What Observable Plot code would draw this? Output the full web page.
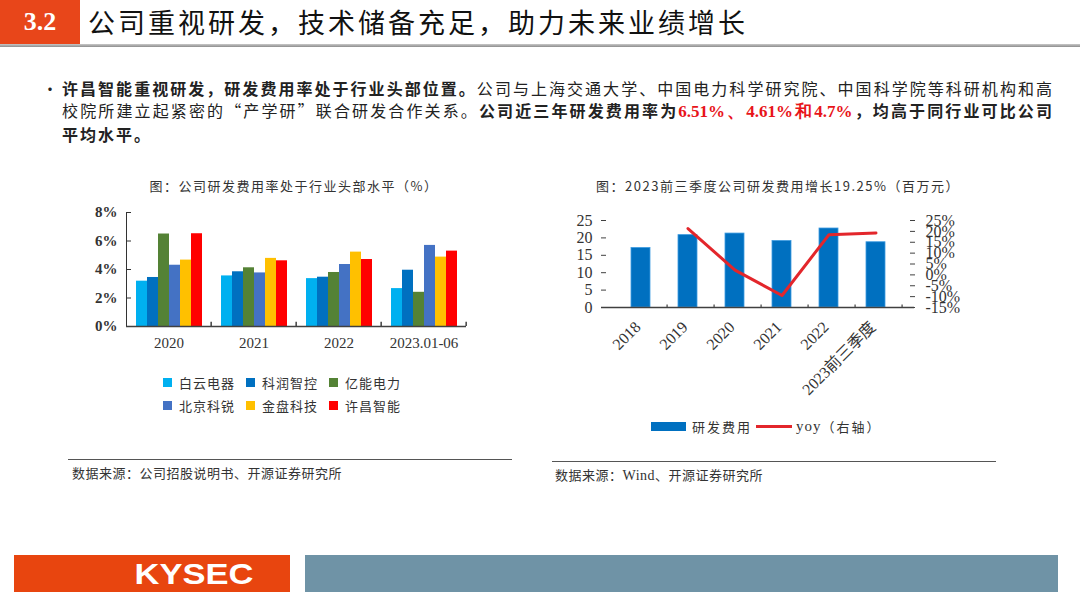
<!DOCTYPE html>
<html>
<head>
<meta charset="utf-8">
<script src="https://cdn.jsdelivr.net/npm/d3@7"></script>
<script src="https://cdn.jsdelivr.net/npm/@observablehq/plot@0.6"></script>
<style>
  html, body { margin: 0; padding: 0; }
  body { width: 1080px; height: 607px; position: relative; background: #fff; overflow: hidden;
         font-family: "Noto Sans CJK SC", sans-serif; color: #222; }
  .abs { position: absolute; }
  #hdrBox { left: 0; top: 0; width: 80px; height: 44px; background: #e8461a; color: #fff;
            font: bold 26px "Liberation Serif", serif; line-height: 44px; text-align: center; }
  #hdrTitle { left: 88px; top: 4px; font-size: 27px; letter-spacing: 3px; line-height: 36px; color: #111; }
  #hdrLine { left: 0; top: 44px; width: 1080px; height: 3px; background: linear-gradient(#c8c8c8, #8e8e8e); }
  #bullet { left: 42px; top: 77px; font-size: 16px; line-height: 22px; }
  #para { left: 62px; top: 77px; width: 990px; font-size: 16px; line-height: 22px; color: #222; }
  #para div { text-align: justify; text-align-last: justify; }
  #para div.last { text-align-last: left; letter-spacing: 2px; }
  .b { font-weight: 700; }
  .red { color: #e8141a; font: bold 17px "Liberation Serif", serif; }
  .ctitle { font-size: 13px; letter-spacing: 1.5px; color: #333; white-space: nowrap; transform: translateX(-50%); }
  .legend { font-size: 13px; letter-spacing: 1px; color: #333; }
  .lg-item { display: flex; align-items: center; height: 23px; }
  .sw { width: 9px; height: 9px; margin-right: 7px; }
  .src { font-size: 13px; color: #333; letter-spacing: 0.5px; }
  .rule { height: 1px; background: #555; }
  #leftChart svg g[aria-label="y-axis tick label"] { font-weight: bold; }
</style>
</head>
<body>
<div id="hdrBox" class="abs">3.2</div>
<div id="hdrTitle" class="abs">公司重视研发，技术储备充足，助力未来业绩增长</div>
<div id="hdrLine" class="abs"></div>

<div id="bullet" class="abs">•</div>
<div id="para" class="abs">
  <div><span class="b">许昌智能重视研发，研发费用率处于行业头部位置。</span>公司与上海交通大学、中国电力科学研究院、中国科学院等科研机构和高</div>
  <div>校院所建立起紧密的“产学研”联合研发合作关系。<span class="b">公司近三年研发费用率为</span><span class="red">6.51%、4.61%和4.7%</span><span class="b">，均高于同行业可比公司</span></div>
  <div class="last b">平均水平。</div>
</div>

<div class="abs ctitle" style="left:294px; top:176px;">图：公司研发费用率处于行业头部水平（%）</div>
<div class="abs ctitle" style="left:778px; top:176px;">图：2023前三季度公司研发费用增长19.25%（百万元）</div>

<div id="leftChart" class="abs" style="left:70px; top:200px;"></div>
<div id="rightChart" class="abs" style="left:545px; top:205px;"></div>

<div id="leftLegend" class="abs legend" style="left:163px; top:371px; display:grid; grid-template-columns: repeat(3, 83px);"></div>
<div id="rightLegend" class="abs legend" style="left:651px; top:415px; display:flex; align-items:center; height:23px;"></div>

<div class="abs rule" style="left:68px; top:459px; width:444px;"></div>
<div class="abs src" style="left:72px; top:463px;">数据来源：公司招股说明书、开源证券研究所</div>
<div class="abs rule" style="left:552px; top:461px; width:444px;"></div>
<div class="abs src" style="left:555px; top:465px;">数据来源：<span style="font-family:'Liberation Serif'; font-size:14px;">Wind</span>、开源证券研究所</div>

<div class="abs" style="left:14px; top:555px; width:276px; height:37px; background:#e8450f;"></div>
<div class="abs" style="left:124px; top:555px; width:140px; height:37px; color:#fff; font: bold 30px 'Liberation Sans', sans-serif; line-height:37px; text-align:center; transform: scaleX(1.15); transform-origin: center;">KYSEC</div>
<div class="abs" style="left:305px; top:555px; width:753px; height:37px; background:#6f93a6;"></div>

<script>
// ---------- Left chart data ----------
const years = ["2020", "2021", "2022", "2023.01-06"];
const companies = ["白云电器", "科润智控", "亿能电力", "北京科锐", "金盘科技", "许昌智能"];
const companyColors = ["#00b0f0", "#0070c0", "#548235", "#4472c4", "#ffc000", "#ff0000"];
const baiyun  = [3.18, 3.55, 3.36, 2.66];
const kerun   = [3.44, 3.84, 3.46, 3.95];
const yineng  = [6.49, 4.12, 3.79, 2.40];
const beijing = [4.30, 3.76, 4.35, 5.69];
const jinpan  = [4.66, 4.78, 5.22, 4.87];
const xuchang = [6.51, 4.61, 4.70, 5.29];
const rateTicks = [0, 2, 4, 6, 8];

// ---------- Right chart data ----------
const periods = ["2018", "2019", "2020", "2021", "2022", "2023前三季度"];
const rdExpense = [17.1, 20.8, 21.25, 19.1, 22.7, 18.75];
const yoy = [null, 21.3, 2.2, -9.5, 18.5, 19.25];
const leftTicks = [0, 5, 10, 15, 20, 25];
const yoyTicks = [-15, -10, -5, 0, 5, 10, 15, 20, 25];

const axisColor = "#404040";
const textColor = "#333";

// ----- Left chart -----
const series = [baiyun, kerun, yineng, beijing, jinpan, xuchang];
const rows = [];
years.forEach((yr, i) => companies.forEach((c, j) => rows.push({year: yr, company: c, value: series[j][i]})));

const LW = 410, LML = 56, LMR = 14, outerPad = 0.75;
const groupW = (LW - LML - LMR) / years.length;
const step = groupW / (companies.length + 2 * outerPad);
const boundaryDx = step / 2 + outerPad * step;

const left = Plot.plot({
  width: LW, height: 156, marginLeft: LML, marginRight: LMR, marginTop: 12, marginBottom: 30,
  style: {fontFamily: "Liberation Serif, serif", fontSize: "15px", color: textColor, background: "transparent", overflow: "visible"},
  facet: {data: rows, x: "year"},
  fx: {domain: years, padding: 0, label: null, axis: "bottom", tickSize: 0, tickPadding: 11},
  x: {domain: companies, paddingInner: 0, paddingOuter: outerPad, axis: null},
  y: {domain: [0, 8], ticks: rateTicks, tickFormat: d => d + "%", label: null, tickSize: -5, tickPadding: 14, line: true},
  color: {domain: companies, range: companyColors},
  marks: [
    Plot.barY(rows, {x: "company", y: "value", fill: "company"}),
    Plot.ruleY([0], {stroke: axisColor, strokeWidth: 1.5}),
    Plot.ruleX([companies[companies.length - 1]], {y1: 0, y2: 0.3, dx: boundaryDx, stroke: axisColor, strokeWidth: 1.5})
  ]
});
document.getElementById("leftChart").appendChild(left);

// legend left
const ll = document.getElementById("leftLegend");
companies.forEach((c, i) => {
  const it = document.createElement("div");
  it.className = "lg-item";
  it.innerHTML = `<span class="sw" style="background:${companyColors[i]}"></span><span>${c}</span>`;
  ll.appendChild(it);
});

// ----- Right chart -----
const yMin = -15, yMax = 25, lMax = 25;
const toLeft = p => (p - yMin) / (yMax - yMin) * lMax;
const fromLeft = v => Math.round(v / lMax * (yMax - yMin) + yMin);
const barRows = periods.map((p, i) => ({period: p, value: rdExpense[i]}));
const yoyRows = periods.map((p, i) => ({period: p, yoy: yoy[i]})).filter(d => d.yoy != null);

const RW = 430, RML = 56, RMR = 61;
const bandStep = (RW - RML - RMR) / periods.length;

const right = Plot.plot({
  width: RW, height: 197, marginLeft: RML, marginRight: RMR, marginTop: 15, marginBottom: 95,
  style: {fontFamily: "Liberation Serif, 'Noto Sans CJK SC', serif", fontSize: "16px", color: textColor, background: "transparent", overflow: "visible"},
  x: {domain: periods, padding: 0.6, label: null},
  y: {domain: [0, lMax], label: null},
  marks: [
    Plot.barY(barRows, {x: "period", y: "value", fill: "#0070c0", stroke: "#3d9be0", strokeWidth: 0.8}),
    Plot.ruleY([0], {stroke: axisColor, strokeWidth: 1.5}),
    Plot.ruleX(periods, {y1: 0, y2: 0.7, dx: bandStep / 2, stroke: axisColor, strokeWidth: 1.2}),
    Plot.axisX({tickRotate: -45, tickSize: 0, tickPadding: 17, dx: -3, label: null}),
    Plot.axisY(leftTicks, {anchor: "left", tickSize: -5, tickPadding: 14, line: true, label: null, stroke: axisColor}),
    Plot.axisY(yoyTicks.map(toLeft), {anchor: "right", tickFormat: d => fromLeft(d) + "%", tickSize: -5, tickPadding: 16, line: true, label: null, stroke: axisColor}),
    Plot.lineY(yoyRows, {x: "period", y: d => toLeft(d.yoy), stroke: "#e3262b", strokeWidth: 3})
  ]
});
document.getElementById("rightChart").appendChild(right);

// legend right
const rl = document.getElementById("rightLegend");
rl.innerHTML = `<span style="width:35px;height:9px;background:#0070c0;margin-right:6px"></span><span style="letter-spacing:2px">研发费用</span>` +
  `<span style="width:36px;height:3px;background:#e3262b;margin:0 4px 0 4px"></span><span style="font-family:'Liberation Serif';font-size:15px">yoy</span><span style="letter-spacing:2px">（右轴）</span>`;
</script>
</body>
</html>
